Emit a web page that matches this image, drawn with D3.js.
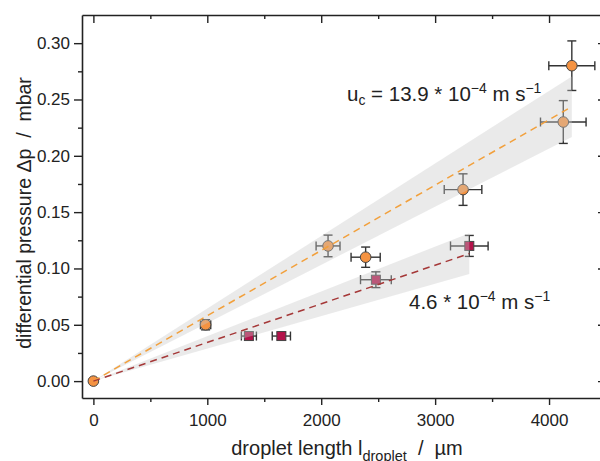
<!DOCTYPE html>
<html>
<head>
<meta charset="utf-8">
<script src="https://cdn.jsdelivr.net/npm/d3@7"></script>
<style>
  html, body { margin: 0; padding: 0; background: #fff; }
  svg { display: block; font-family: "Liberation Sans", Arial, sans-serif; }
  text { white-space: pre; }
</style>
</head>
<body>
<svg id="chart" width="600" height="461"></svg>
<script>
// Series A: faster continuous-phase velocity (circles)
const lengthsA      = [0, 985, 2060, 2390, 3245, 4125, 4200];
const pressureA    = [0, 0.050, 0.120, 0.110, 0.170, 0.230, 0.280];
const lengthErrA   = [0, 45, 105, 128, 165, 200, 202];
const pressureErrA = [0, 0.0045, 0.0096, 0.009, 0.014, 0.019, 0.022];

// Series B: slower continuous-phase velocity (squares)
const lengthsB      = [1365, 1650, 2480, 3300];
const pressureB     = [0.040, 0.040, 0.090, 0.120];
const lengthErrB    = [66, 80, 135, 165];
const pressureErrB  = [0.003, 0.003, 0.007, 0.0093];

// Linear fits through the origin (mbar per µm) with confidence half-widths on the slope
const fitSlope = [5.8e-5, 3.43e-5];
const fitSlopeBand = [6.4e-6, 5.5e-6];
const fitEnd = [4200, 3300];

// Axis ticks
const xTicks = [0, 1000, 2000, 3000, 4000];
const xMinorTicks = [500, 1500, 2500, 3500, 4500];
const yTicks = [0, 0.05, 0.10, 0.15, 0.20, 0.25, 0.30];
const yMinorTicks = [0.025, 0.075, 0.125, 0.175, 0.225, 0.275];

const svg = d3.select("#chart");
const plotLeft = 82, plotRight = 606, plotTop = 15, plotBottom = 398;

const x = d3.scaleLinear().domain([-100, 4500]).range([plotLeft, plotRight]);
const y = d3.scaleLinear().domain([-0.015, 0.325]).range([plotBottom, plotTop]);

const orange = "#f59342", orangeLine = "#f2a03c";
const crimson = "#b3124a", crimsonLine = "#a53838";
const ink = "#222";

// Axes
const axisFont = 17;
function styleAxis(g) {
  g.selectAll("path.domain").attr("stroke", ink).attr("stroke-width", 1.6);
  g.selectAll(".tick line").attr("stroke", ink).attr("stroke-width", 1.4);
  g.selectAll(".tick text").attr("fill", ink).attr("font-size", axisFont)
    .attr("font-family", '"Liberation Sans", Arial, sans-serif');
}

// bottom
svg.append("g").attr("transform", `translate(0,${plotBottom})`)
  .call(d3.axisBottom(x).tickValues(xTicks).tickFormat(d3.format("d")).tickSize(7).tickSizeOuter(0).tickPadding(9))
  .call(styleAxis);
svg.append("g").attr("transform", `translate(0,${plotBottom})`)
  .call(d3.axisBottom(x).tickValues(xMinorTicks).tickFormat("").tickSize(4).tickSizeOuter(0))
  .call(styleAxis).select("path.domain").remove();
// top (inward)
svg.append("g").attr("transform", `translate(0,${plotTop})`)
  .call(d3.axisBottom(x).tickValues(xTicks).tickFormat("").tickSize(8).tickSizeOuter(0))
  .call(styleAxis);
svg.append("g").attr("transform", `translate(0,${plotTop})`)
  .call(d3.axisBottom(x).tickValues(xMinorTicks).tickFormat("").tickSize(4).tickSizeOuter(0))
  .call(styleAxis).select("path.domain").remove();
// left
svg.append("g").attr("transform", `translate(${plotLeft},0)`)
  .call(d3.axisLeft(y).tickValues(yTicks).tickFormat(d3.format(".2f")).tickSize(8).tickSizeOuter(0).tickPadding(4))
  .call(styleAxis);
svg.append("g").attr("transform", `translate(${plotLeft},0)`)
  .call(d3.axisLeft(y).tickValues(yMinorTicks).tickFormat("").tickSize(4).tickSizeOuter(0))
  .call(styleAxis).select("path.domain").remove();
// right (inward)
svg.append("g").attr("transform", `translate(${plotRight},0)`)
  .call(d3.axisLeft(y).tickValues(yTicks).tickFormat("").tickSize(8).tickSizeOuter(0))
  .call(styleAxis);

// Error bars
const cap = 4.5;
function errorBars(xs, ys, xe, ye) {
  const g = svg.append("g").attr("stroke", "#333").attr("stroke-width", 1.4).attr("fill", "none");
  xs.forEach((lx, i) => {
    if (xe[i] > 0) {
      g.append("line").attr("x1", x(lx - xe[i])).attr("x2", x(lx + xe[i])).attr("y1", y(ys[i])).attr("y2", y(ys[i]));
      [lx - xe[i], lx + xe[i]].forEach(v =>
        g.append("line").attr("x1", x(v)).attr("x2", x(v)).attr("y1", y(ys[i]) - cap).attr("y2", y(ys[i]) + cap));
    }
    if (ye[i] > 0) {
      g.append("line").attr("x1", x(lx)).attr("x2", x(lx)).attr("y1", y(ys[i] - ye[i])).attr("y2", y(ys[i] + ye[i]));
      [ys[i] - ye[i], ys[i] + ye[i]].forEach(v =>
        g.append("line").attr("x1", x(lx) - cap).attr("x2", x(lx) + cap).attr("y1", y(v)).attr("y2", y(v)));
    }
  });
}
errorBars(lengthsA, pressureA, lengthErrA, pressureErrA);
errorBars(lengthsB, pressureB, lengthErrB, pressureErrB);

// Markers
const sq = 9;
svg.append("g").selectAll("rect").data(lengthsB).join("rect")
  .attr("x", (d) => x(d) - sq / 2).attr("y", (d, i) => y(pressureB[i]) - sq / 2)
  .attr("width", sq).attr("height", sq)
  .attr("fill", crimson).attr("stroke", "#444").attr("stroke-width", 1);
svg.append("g").selectAll("circle").data(lengthsA).join("circle")
  .attr("cx", (d) => x(d)).attr("cy", (d, i) => y(pressureA[i])).attr("r", 5.3)
  .attr("fill", orange).attr("stroke", "#444").attr("stroke-width", 1);

// Confidence bands (semi-transparent, over the markers)
fitSlope.forEach((k, i) => {
  const dk = fitSlopeBand[i], xe = fitEnd[i];
  const pts = [[0, 0], [xe, (k + dk) * xe], [xe, (k - dk) * xe]];
  svg.append("path")
    .attr("d", d3.line().x(p => x(p[0])).y(p => y(p[1]))(pts) + "Z")
    .attr("fill", "#c8c8c8").attr("fill-opacity", 0.38);
});

// Fit lines
const lineColors = [orangeLine, crimsonLine];
fitSlope.forEach((k, i) => {
  svg.append("path")
    .attr("d", d3.line().x(p => x(p[0])).y(p => y(p[1]))([[0, 0], [fitEnd[i], k * fitEnd[i]]]))
    .attr("fill", "none").attr("stroke", lineColors[i]).attr("stroke-width", 1.5)
    .attr("stroke-dasharray", "7,5");
});

// Annotations
const annFont = 20.5;
function velocityLabel(tx, ty, prefix, value) {
  const t = svg.append("text").attr("x", tx).attr("y", ty).attr("font-size", annFont).attr("fill", ink);
  if (prefix) {
    t.append("tspan").text("u");
    t.append("tspan").attr("font-size", annFont * 0.68).attr("dy", 4).text("c");
    t.append("tspan").attr("dy", -4).text(" = " + value + " * 10");
  } else {
    t.append("tspan").text(value + " * 10");
  }
  t.append("tspan").attr("font-size", annFont * 0.68).attr("dy", -8).text("\u22124");
  t.append("tspan").attr("dy", 8).text(" m s");
  t.append("tspan").attr("font-size", annFont * 0.68).attr("dy", -8).text("\u22121");
}
velocityLabel(347, 101, true, "13.9");
velocityLabel(409, 309, false, "4.6");

// Axis titles
const xt = svg.append("text").attr("x", (x(-100) + x(4500)) / 2 + 3).attr("y", 455)
  .attr("text-anchor", "middle").attr("font-size", 20).attr("fill", ink);
xt.append("tspan").text("droplet length l");
xt.append("tspan").attr("font-size", 14.5).attr("dy", 6).text("droplet");
xt.append("tspan").attr("dy", -6).text("  /  µm");

svg.append("text").attr("transform", "translate(31,213) rotate(-90)")
  .attr("text-anchor", "middle").attr("font-size", 19.5).attr("fill", ink)
  .text("differential pressure \u0394p  /  mbar");
</script>
</body>
</html>
